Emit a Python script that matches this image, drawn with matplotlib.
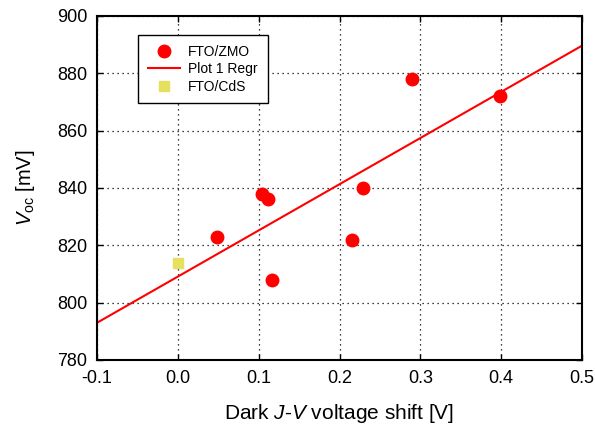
import matplotlib.pyplot as plt
import numpy as np

plt.rcParams['font.family'] = ['Liberation Sans', 'DejaVu Sans']
plt.rcParams['mathtext.fontset'] = 'custom'
plt.rcParams['mathtext.rm'] = 'Liberation Sans'
plt.rcParams['mathtext.it'] = 'Liberation Sans:italic'

# FTO/ZMO samples
zmo_shift = [0.049, 0.104, 0.112, 0.117, 0.216, 0.229, 0.290, 0.399]
zmo_voc = [823, 838, 836, 808, 822, 840, 878, 872]

# FTO/CdS reference
cds_shift = [0.0]
cds_voc = [814]

xticks = [-0.1, 0.0, 0.1, 0.2, 0.3, 0.4, 0.5]
yticks = [780, 800, 820, 840, 860, 880, 900]

fig = plt.figure(figsize=(5.95, 4.30), dpi=100)
ax = fig.add_axes([97 / 595, 70 / 430, 485 / 595, 344 / 430])

# Linear regression through the ZMO points
slope, icpt = np.polyfit(zmo_shift, zmo_voc, 1)
xr = np.array([-0.1, 0.5])

ax.plot(zmo_shift, zmo_voc, 'o', color='#ff0000', markersize=9, label='FTO/ZMO', zorder=3)
ax.plot(xr, slope * xr + icpt, '-', color='#ff0000', linewidth=1.5, label='Plot 1 Regr', zorder=2)
ax.plot(cds_shift, cds_voc, 's', color='#e5e05f', markersize=7.5, label='FTO/CdS', zorder=3)

ax.set_xlim(-0.1, 0.5)
ax.set_ylim(780, 900)
ax.set_xticks(xticks)
ax.set_yticks(yticks)
ax.set_xticklabels(['%.1f' % t for t in xticks])
ax.grid(True, color='black', linestyle=(0, (1, 3)), linewidth=0.9)
ax.tick_params(direction='in', top=True, right=True, labelsize=13, length=4, width=1, pad=7)
for s in ax.spines.values():
    s.set_linewidth(1.5)

ax.set_xlabel('Dark $\\it{J}$-$\\it{V}$ voltage shift [V]', fontsize=15, labelpad=11)
ax.set_ylabel('$\\it{V}_{\\rm oc}$ [mV]', fontsize=14.5, labelpad=14)

leg = ax.legend(loc='upper left', bbox_to_anchor=(0.085, 0.945), fontsize=10, frameon=True,
                fancybox=False, edgecolor='black', framealpha=1, borderpad=0.7,
                handlelength=2.3, handletextpad=0.6, labelspacing=0.25, borderaxespad=0)
leg.get_frame().set_linewidth(1.0)

fig.savefig('out.png', dpi=100)
